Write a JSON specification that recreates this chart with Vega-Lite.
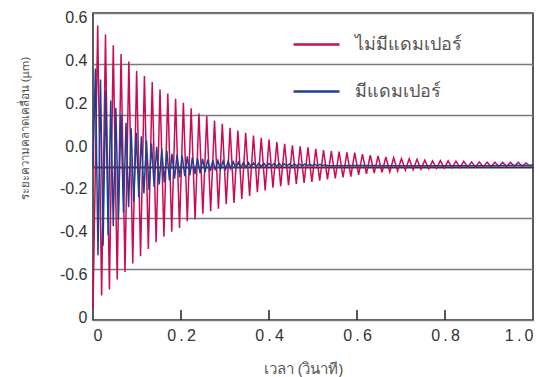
{
  "$schema": "https://vega.github.io/schema/vega-lite/v6.json",
  "width": 440,
  "height": 307,
  "autosize": "none",
  "padding": {"left": 93, "top": 13, "right": 7, "bottom": 57},
  "background": "white",
  "config": {
    "view": {"stroke": "#333333", "strokeWidth": 1.6},
    "font": "Liberation Sans"
  },
  "resolve": {"scale": {"y": "independent"}, "axis": {"y": "independent"}},
  "layer": [
    {
      "data": {"values": [{"v": 0.6}, {"v": 0.4}, {"v": 0.2}, {"v": 0.0}, {"v": -0.2}, {"v": -0.4}, {"v": -0.6}, {"v": -0.8}]},
      "mark": {"type": "rule", "opacity": 0},
      "encoding": {
        "y": {
          "field": "v",
          "type": "quantitative",
          "scale": {"domain": [-0.811, 0.62], "nice": false, "zero": false},
          "axis": {
            "orient": "left",
            "values": [0.6, 0.4, 0.2, 0.0, -0.2, -0.4, -0.6, -0.8],
            "labelExpr": "datum.value < -0.7 ? '0' : replace(format(datum.value, '.1f'), '\u2212', '-')",
            "grid": false,
            "ticks": false,
            "domain": false,
            "labelFontSize": 16,
            "labelColor": "#333333",
            "labelPadding": 6,
            "title": "ระยะความคลาดเคลื่อน (μm)",
            "titleFont": "Noto Sans",
            "titleFontSize": 11.5,
            "titleFontWeight": "normal",
            "titleColor": "#555555",
            "titleX": -68,
            "titleY": 115,
            "titleAlign": "center",
            "titleBaseline": "middle",
            "titleAngle": -90
          }
        }
      }
    },
    {
      "data": {"values": [{"t": 0.2}, {"t": 0.4}, {"t": 0.6}, {"t": 0.8}]},
      "mark": {"type": "rule", "color": "#222222", "strokeWidth": 1.5},
      "encoding": {
        "x": {"field": "t", "type": "quantitative", "scale": {"domain": [0, 1], "nice": false, "zero": false}},
        "y": {"datum": -0.6, "type": "quantitative", "scale": {"domain": [-0.6, 0.6], "nice": false, "zero": false}, "axis": null},
        "y2": {"datum": -0.561}
      }
    },
    {
      "data": {
        "values": [
          {"s": "ไม่มีแดมเปอร์", "t": 0, "d": -0.56},
          {"s": "ไม่มีแดมเปอร์", "t": 0.0107, "d": 0.551}, {"s": "ไม่มีแดมเปอร์", "t": 0.0196, "d": -0.504},
          {"s": "ไม่มีแดมเปอร์", "t": 0.0284, "d": 0.516}, {"s": "ไม่มีแดมเปอร์", "t": 0.0373, "d": -0.481},
          {"s": "ไม่มีแดมเปอร์", "t": 0.0461, "d": 0.474}, {"s": "ไม่มีแดมเปอร์", "t": 0.0550, "d": -0.442},
          {"s": "ไม่มีแดมเปอร์", "t": 0.0638, "d": 0.440}, {"s": "ไม่มีแดมเปอร์", "t": 0.0727, "d": -0.412},
          {"s": "ไม่มีแดมเปอร์", "t": 0.0815, "d": 0.410}, {"s": "ไม่มีแดมเปอร์", "t": 0.0904, "d": -0.379},
          {"s": "ไม่มีแดมเปอร์", "t": 0.0992, "d": 0.373}, {"s": "ไม่มีแดมเปอร์", "t": 0.1081, "d": -0.351},
          {"s": "ไม่มีแดมเปอร์", "t": 0.1169, "d": 0.354}, {"s": "ไม่มีแดมเปอร์", "t": 0.1258, "d": -0.322},
          {"s": "ไม่มีแดมเปอร์", "t": 0.1346, "d": 0.330}, {"s": "ไม่มีแดมเปอร์", "t": 0.1435, "d": -0.296},
          {"s": "ไม่มีแดมเปอร์", "t": 0.1523, "d": 0.301}, {"s": "ไม่มีแดมเปอร์", "t": 0.1612, "d": -0.275},
          {"s": "ไม่มีแดมเปอร์", "t": 0.1700, "d": 0.285}, {"s": "ไม่มีแดมเปอร์", "t": 0.1789, "d": -0.255},
          {"s": "ไม่มีแดมเปอร์", "t": 0.1877, "d": 0.265}, {"s": "ไม่มีแดมเปอร์", "t": 0.1966, "d": -0.240},
          {"s": "ไม่มีแดมเปอร์", "t": 0.2054, "d": 0.249}, {"s": "ไม่มีแดมเปอร์", "t": 0.2143, "d": -0.214},
          {"s": "ไม่มีแดมเปอร์", "t": 0.2231, "d": 0.228}, {"s": "ไม่มีแดมเปอร์", "t": 0.2320, "d": -0.207},
          {"s": "ไม่มีแดมเปอร์", "t": 0.2408, "d": 0.207}, {"s": "ไม่มีแดมเปอร์", "t": 0.2497, "d": -0.185},
          {"s": "ไม่มีแดมเปอร์", "t": 0.2585, "d": 0.197}, {"s": "ไม่มีแดมเปอร์", "t": 0.2674, "d": -0.175},
          {"s": "ไม่มีแดมเปอร์", "t": 0.2762, "d": 0.180}, {"s": "ไม่มีแดมเปอร์", "t": 0.2851, "d": -0.165},
          {"s": "ไม่มีแดมเปอร์", "t": 0.2939, "d": 0.167}, {"s": "ไม่มีแดมเปอร์", "t": 0.3028, "d": -0.147},
          {"s": "ไม่มีแดมเปอร์", "t": 0.3116, "d": 0.151}, {"s": "ไม่มีแดมเปอร์", "t": 0.3205, "d": -0.143},
          {"s": "ไม่มีแดมเปอร์", "t": 0.3293, "d": 0.141}, {"s": "ไม่มีแดมเปอร์", "t": 0.3382, "d": -0.127},
          {"s": "ไม่มีแดมเปอร์", "t": 0.3470, "d": 0.132}, {"s": "ไม่มีแดมเปอร์", "t": 0.3559, "d": -0.115},
          {"s": "ไม่มีแดมเปอร์", "t": 0.3647, "d": 0.121}, {"s": "ไม่มีแดมเปอร์", "t": 0.3736, "d": -0.100},
          {"s": "ไม่มีแดมเปอร์", "t": 0.3824, "d": 0.112}, {"s": "ไม่มีแดมเปอร์", "t": 0.3913, "d": -0.094},
          {"s": "ไม่มีแดมเปอร์", "t": 0.4001, "d": 0.105}, {"s": "ไม่มีแดมเปอร์", "t": 0.4090, "d": -0.083},
          {"s": "ไม่มีแดมเปอร์", "t": 0.4178, "d": 0.096}, {"s": "ไม่มีแดมเปอร์", "t": 0.4267, "d": -0.077},
          {"s": "ไม่มีแดมเปอร์", "t": 0.4355, "d": 0.089}, {"s": "ไม่มีแดมเปอร์", "t": 0.4444, "d": -0.073},
          {"s": "ไม่มีแดมเปอร์", "t": 0.4532, "d": 0.083}, {"s": "ไม่มีแดมเปอร์", "t": 0.4621, "d": -0.068},
          {"s": "ไม่มีแดมเปอร์", "t": 0.4709, "d": 0.079}, {"s": "ไม่มีแดมเปอร์", "t": 0.4798, "d": -0.064},
          {"s": "ไม่มีแดมเปอร์", "t": 0.4886, "d": 0.075}, {"s": "ไม่มีแดมเปอร์", "t": 0.4975, "d": -0.060},
          {"s": "ไม่มีแดมเปอร์", "t": 0.5063, "d": 0.069}, {"s": "ไม่มีแดมเปอร์", "t": 0.5152, "d": -0.055},
          {"s": "ไม่มีแดมเปอร์", "t": 0.5240, "d": 0.064}, {"s": "ไม่มีแดมเปอร์", "t": 0.5329, "d": -0.050},
          {"s": "ไม่มีแดมเปอร์", "t": 0.5417, "d": 0.060}, {"s": "ไม่มีแดมเปอร์", "t": 0.5506, "d": -0.046},
          {"s": "ไม่มีแดมเปอร์", "t": 0.5594, "d": 0.058}, {"s": "ไม่มีแดมเปอร์", "t": 0.5683, "d": -0.043},
          {"s": "ไม่มีแดมเปอร์", "t": 0.5771, "d": 0.055}, {"s": "ไม่มีแดมเปอร์", "t": 0.5860, "d": -0.040},
          {"s": "ไม่มีแดมเปอร์", "t": 0.5948, "d": 0.054}, {"s": "ไม่มีแดมเปอร์", "t": 0.6037, "d": -0.033},
          {"s": "ไม่มีแดมเปอร์", "t": 0.6125, "d": 0.048}, {"s": "ไม่มีแดมเปอร์", "t": 0.6214, "d": -0.029},
          {"s": "ไม่มีแดมเปอร์", "t": 0.6302, "d": 0.044}, {"s": "ไม่มีแดมเปอร์", "t": 0.6391, "d": -0.026},
          {"s": "ไม่มีแดมเปอร์", "t": 0.6479, "d": 0.041}, {"s": "ไม่มีแดมเปอร์", "t": 0.6568, "d": -0.023},
          {"s": "ไม่มีแดมเปอร์", "t": 0.6656, "d": 0.037}, {"s": "ไม่มีแดมเปอร์", "t": 0.6745, "d": -0.021},
          {"s": "ไม่มีแดมเปอร์", "t": 0.6833, "d": 0.034}, {"s": "ไม่มีแดมเปอร์", "t": 0.6922, "d": -0.017},
          {"s": "ไม่มีแดมเปอร์", "t": 0.7010, "d": 0.031}, {"s": "ไม่มีแดมเปอร์", "t": 0.7099, "d": -0.014},
          {"s": "ไม่มีแดมเปอร์", "t": 0.7187, "d": 0.030}, {"s": "ไม่มีแดมเปอร์", "t": 0.7276, "d": -0.013},
          {"s": "ไม่มีแดมเปอร์", "t": 0.7364, "d": 0.028}, {"s": "ไม่มีแดมเปอร์", "t": 0.7453, "d": -0.011},
          {"s": "ไม่มีแดมเปอร์", "t": 0.7541, "d": 0.025}, {"s": "ไม่มีแดมเปอร์", "t": 0.7630, "d": -0.009},
          {"s": "ไม่มีแดมเปอร์", "t": 0.7718, "d": 0.022}, {"s": "ไม่มีแดมเปอร์", "t": 0.7807, "d": -0.007},
          {"s": "ไม่มีแดมเปอร์", "t": 0.7895, "d": 0.023}, {"s": "ไม่มีแดมเปอร์", "t": 0.7984, "d": -0.006},
          {"s": "ไม่มีแดมเปอร์", "t": 0.8072, "d": 0.022}, {"s": "ไม่มีแดมเปอร์", "t": 0.8161, "d": -0.005},
          {"s": "ไม่มีแดมเปอร์", "t": 0.8249, "d": 0.021}, {"s": "ไม่มีแดมเปอร์", "t": 0.8338, "d": -0.004},
          {"s": "ไม่มีแดมเปอร์", "t": 0.8426, "d": 0.020}, {"s": "ไม่มีแดมเปอร์", "t": 0.8515, "d": -0.003},
          {"s": "ไม่มีแดมเปอร์", "t": 0.8603, "d": 0.018}, {"s": "ไม่มีแดมเปอร์", "t": 0.8692, "d": -0.002},
          {"s": "ไม่มีแดมเปอร์", "t": 0.8780, "d": 0.018}, {"s": "ไม่มีแดมเปอร์", "t": 0.8869, "d": -0.002},
          {"s": "ไม่มีแดมเปอร์", "t": 0.8957, "d": 0.017}, {"s": "ไม่มีแดมเปอร์", "t": 0.9046, "d": -0.001},
          {"s": "ไม่มีแดมเปอร์", "t": 0.9134, "d": 0.017}, {"s": "ไม่มีแดมเปอร์", "t": 0.9223, "d": 0.000},
          {"s": "ไม่มีแดมเปอร์", "t": 0.9311, "d": 0.016}, {"s": "ไม่มีแดมเปอร์", "t": 0.9400, "d": 0.000},
          {"s": "ไม่มีแดมเปอร์", "t": 0.9488, "d": 0.016}, {"s": "ไม่มีแดมเปอร์", "t": 0.9577, "d": 0.001},
          {"s": "ไม่มีแดมเปอร์", "t": 0.9665, "d": 0.016}, {"s": "ไม่มีแดมเปอร์", "t": 0.9754, "d": 0.001},
          {"s": "ไม่มีแดมเปอร์", "t": 0.9842, "d": 0.014}, {"s": "ไม่มีแดมเปอร์", "t": 0.9931, "d": 0.002},
          {"s": "ไม่มีแดมเปอร์", "t": 1.0, "d": 0.008},
          {"s": "มีแดมเปอร์", "t": 0, "d": 0.0},
          {"s": "มีแดมเปอร์", "t": 0.0055, "d": 0.383}, {"s": "มีแดมเปอร์", "t": 0.0113, "d": -0.347},
          {"s": "มีแดมเปอร์", "t": 0.0171, "d": 0.340}, {"s": "มีแดมเปอร์", "t": 0.0229, "d": -0.310},
          {"s": "มีแดมเปอร์", "t": 0.0287, "d": 0.297}, {"s": "มีแดมเปอร์", "t": 0.0345, "d": -0.269},
          {"s": "มีแดมเปอร์", "t": 0.0403, "d": 0.258}, {"s": "มีแดมเปอร์", "t": 0.0461, "d": -0.233},
          {"s": "มีแดมเปอร์", "t": 0.0519, "d": 0.229}, {"s": "มีแดมเปอร์", "t": 0.0577, "d": -0.207},
          {"s": "มีแดมเปอร์", "t": 0.0635, "d": 0.203}, {"s": "มีแดมเปอร์", "t": 0.0693, "d": -0.181},
          {"s": "มีแดมเปอร์", "t": 0.0751, "d": 0.171}, {"s": "มีแดมเปอร์", "t": 0.0809, "d": -0.159},
          {"s": "มีแดมเปอร์", "t": 0.0867, "d": 0.149}, {"s": "มีแดมเปอร์", "t": 0.0925, "d": -0.140},
          {"s": "มีแดมเปอร์", "t": 0.0983, "d": 0.132}, {"s": "มีแดมเปอร์", "t": 0.1041, "d": -0.120},
          {"s": "มีแดมเปอร์", "t": 0.1099, "d": 0.118}, {"s": "มีแดมเปอร์", "t": 0.1157, "d": -0.105},
          {"s": "มีแดมเปอร์", "t": 0.1215, "d": 0.102}, {"s": "มีแดมเปอร์", "t": 0.1273, "d": -0.092},
          {"s": "มีแดมเปอร์", "t": 0.1331, "d": 0.090}, {"s": "มีแดมเปอร์", "t": 0.1389, "d": -0.080},
          {"s": "มีแดมเปอร์", "t": 0.1447, "d": 0.077}, {"s": "มีแดมเปอร์", "t": 0.1505, "d": -0.070},
          {"s": "มีแดมเปอร์", "t": 0.1563, "d": 0.069}, {"s": "มีแดมเปอร์", "t": 0.1621, "d": -0.062},
          {"s": "มีแดมเปอร์", "t": 0.1679, "d": 0.061}, {"s": "มีแดมเปอร์", "t": 0.1737, "d": -0.054},
          {"s": "มีแดมเปอร์", "t": 0.1795, "d": 0.050}, {"s": "มีแดมเปอร์", "t": 0.1853, "d": -0.048},
          {"s": "มีแดมเปอร์", "t": 0.1911, "d": 0.047}, {"s": "มีแดมเปอร์", "t": 0.1969, "d": -0.043},
          {"s": "มีแดมเปอร์", "t": 0.2027, "d": 0.043}, {"s": "มีแดมเปอร์", "t": 0.2085, "d": -0.038},
          {"s": "มีแดมเปอร์", "t": 0.2143, "d": 0.040}, {"s": "มีแดมเปอร์", "t": 0.2201, "d": -0.035},
          {"s": "มีแดมเปอร์", "t": 0.2259, "d": 0.036}, {"s": "มีแดมเปอร์", "t": 0.2317, "d": -0.030},
          {"s": "มีแดมเปอร์", "t": 0.2375, "d": 0.033}, {"s": "มีแดมเปอร์", "t": 0.2433, "d": -0.026},
          {"s": "มีแดมเปอร์", "t": 0.2491, "d": 0.030}, {"s": "มีแดมเปอร์", "t": 0.2549, "d": -0.022},
          {"s": "มีแดมเปอร์", "t": 0.2607, "d": 0.027}, {"s": "มีแดมเปอร์", "t": 0.2665, "d": -0.018},
          {"s": "มีแดมเปอร์", "t": 0.2723, "d": 0.025}, {"s": "มีแดมเปอร์", "t": 0.2781, "d": -0.015},
          {"s": "มีแดมเปอร์", "t": 0.2839, "d": 0.023}, {"s": "มีแดมเปอร์", "t": 0.2897, "d": -0.012},
          {"s": "มีแดมเปอร์", "t": 0.2955, "d": 0.021}, {"s": "มีแดมเปอร์", "t": 0.3013, "d": -0.010},
          {"s": "มีแดมเปอร์", "t": 0.3071, "d": 0.020}, {"s": "มีแดมเปอร์", "t": 0.3129, "d": -0.008},
          {"s": "มีแดมเปอร์", "t": 0.3187, "d": 0.018}, {"s": "มีแดมเปอร์", "t": 0.3245, "d": -0.006},
          {"s": "มีแดมเปอร์", "t": 0.3303, "d": 0.017}, {"s": "มีแดมเปอร์", "t": 0.3361, "d": -0.004},
          {"s": "มีแดมเปอร์", "t": 0.3419, "d": 0.016}, {"s": "มีแดมเปอร์", "t": 0.3477, "d": -0.003},
          {"s": "มีแดมเปอร์", "t": 0.3535, "d": 0.015}, {"s": "มีแดมเปอร์", "t": 0.3593, "d": -0.002},
          {"s": "มีแดมเปอร์", "t": 0.3651, "d": 0.014}, {"s": "มีแดมเปอร์", "t": 0.3709, "d": -0.001},
          {"s": "มีแดมเปอร์", "t": 0.3767, "d": 0.013}, {"s": "มีแดมเปอร์", "t": 0.3825, "d": 0.000},
          {"s": "มีแดมเปอร์", "t": 0.3883, "d": 0.013}, {"s": "มีแดมเปอร์", "t": 0.3941, "d": 0.000},
          {"s": "มีแดมเปอร์", "t": 0.3999, "d": 0.012}, {"s": "มีแดมเปอร์", "t": 0.4057, "d": 0.001},
          {"s": "มีแดมเปอร์", "t": 0.4115, "d": 0.012}, {"s": "มีแดมเปอร์", "t": 0.4173, "d": 0.001},
          {"s": "มีแดมเปอร์", "t": 0.4231, "d": 0.011}, {"s": "มีแดมเปอร์", "t": 0.4289, "d": 0.001},
          {"s": "มีแดมเปอร์", "t": 0.4347, "d": 0.011}, {"s": "มีแดมเปอร์", "t": 0.4405, "d": 0.002},
          {"s": "มีแดมเปอร์", "t": 0.4463, "d": 0.010}, {"s": "มีแดมเปอร์", "t": 0.4521, "d": 0.002},
          {"s": "มีแดมเปอร์", "t": 0.4579, "d": 0.010}, {"s": "มีแดมเปอร์", "t": 0.4637, "d": 0.002},
          {"s": "มีแดมเปอร์", "t": 0.4695, "d": 0.009}, {"s": "มีแดมเปอร์", "t": 0.4753, "d": 0.002},
          {"s": "มีแดมเปอร์", "t": 0.4811, "d": 0.009}, {"s": "มีแดมเปอร์", "t": 0.4869, "d": 0.003},
          {"s": "มีแดมเปอร์", "t": 0.4927, "d": 0.008}, {"s": "มีแดมเปอร์", "t": 0.4985, "d": 0.003},
          {"s": "มีแดมเปอร์", "t": 0.5043, "d": 0.008}, {"s": "มีแดมเปอร์", "t": 0.5101, "d": 0.003},
          {"s": "มีแดมเปอร์", "t": 0.5159, "d": 0.008}, {"s": "มีแดมเปอร์", "t": 0.5217, "d": 0.003},
          {"s": "มีแดมเปอร์", "t": 0.5275, "d": 0.007}, {"s": "มีแดมเปอร์", "t": 0.5333, "d": 0.003},
          {"s": "มีแดมเปอร์", "t": 0.6, "d": 0.004},
          {"s": "มีแดมเปอร์", "t": 0.7, "d": 0.003},
          {"s": "มีแดมเปอร์", "t": 0.8, "d": 0.003},
          {"s": "มีแดมเปอร์", "t": 0.9, "d": 0.003},
          {"s": "มีแดมเปอร์", "t": 1.0, "d": 0.004}
        ]
      },
      "mark": {"type": "line", "strokeWidth": 1.5},
      "encoding": {
        "x": {
          "field": "t",
          "type": "quantitative",
          "scale": {"domain": [0, 1], "nice": false, "zero": false},
          "axis": {
            "values": [0, 0.2, 0.4, 0.6, 0.8, 1.0],
            "labelExpr": "datum.value == 0 ? '0' : replace(format(datum.value, '.1f'), '.', '\u2009.\u2009')",
            "grid": false,
            "domain": false,
            "ticks": false,
            "labelFontSize": 16,
            "labelColor": "#333333",
            "labelPadding": 7,
            "title": "เวลา (วินาที)",
            "titleFont": "Noto Sans",
            "titleFontSize": 15,
            "titleFontWeight": "normal",
            "titleColor": "#555555",
            "titleX": 210,
            "titleY": 48,
            "titleAlign": "center",
            "titleBaseline": "middle"
          }
        },
        "y": {
          "field": "d",
          "type": "quantitative",
          "scale": {"domain": [-0.6, 0.6], "nice": false, "zero": false},
          "axis": {
            "orient": "left",
            "values": [-0.6, -0.4, -0.2, 0, 0.2, 0.4, 0.6],
            "grid": true,
            "gridColor": {"condition": {"test": "datum.value === 0", "value": "#333333"}, "value": "#7a7a7a"},
            "gridWidth": {"condition": {"test": "datum.value === 0", "value": 2}, "value": 1.5},
            "labels": false,
            "ticks": false,
            "domain": false,
            "title": null
          }
        },
        "color": {
          "field": "s",
          "type": "nominal",
          "sort": ["ไม่มีแดมเปอร์", "มีแดมเปอร์"],
          "scale": {"domain": ["ไม่มีแดมเปอร์", "มีแดมเปอร์"], "range": ["#cc0a55", "#1f3f8f"]},
          "legend": {
            "orient": "none",
            "legendX": 199,
            "legendY": 7,
            "title": null,
            "symbolType": "stroke",
            "symbolSize": 2116,
            "symbolStrokeWidth": 2.5,
            "labelFont": "Noto Sans",
            "labelFontSize": 18,
            "labelColor": "#555555",
            "labelOffset": 14,
            "rowPadding": 13,
            "labelLimit": 300
          }
        }
      }
    }
  ]
}
